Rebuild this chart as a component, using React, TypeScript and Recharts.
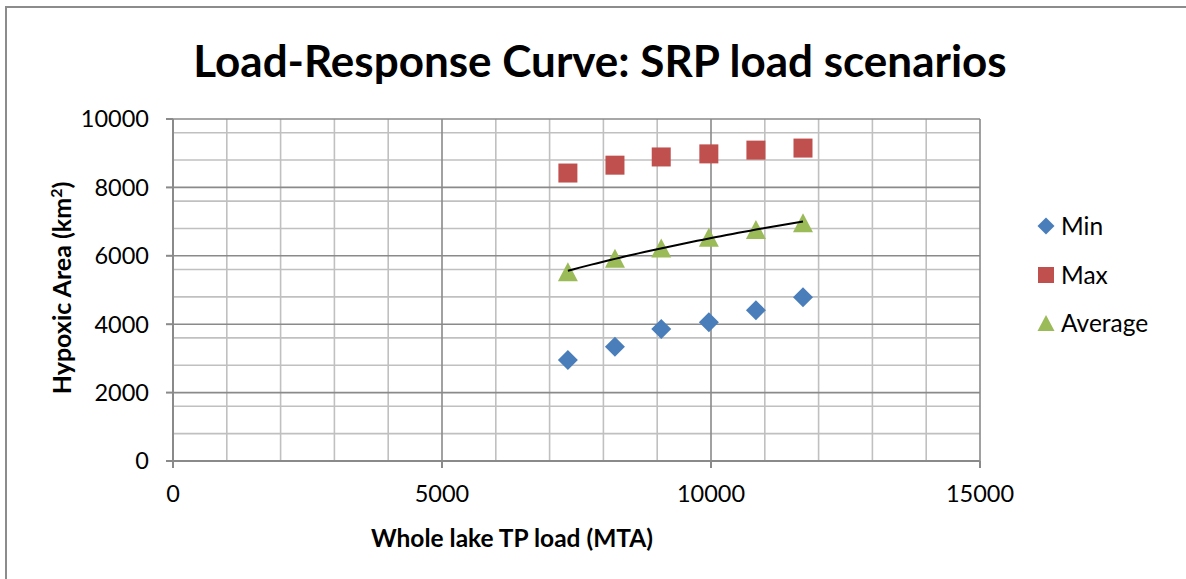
import React from 'react';
import { CartesianGrid, Scatter, ScatterChart, XAxis, YAxis } from 'recharts';

// Whole-lake TP load scenarios (MTA) and the resulting hypoxic area (km²)
const tpLoad = [7340, 8215, 9075, 9960, 10835, 11710];
const minArea = [2950, 3340, 3860, 4060, 4410, 4790];
const maxArea = [8420, 8650, 8890, 8980, 9090, 9150];
const avgArea = [5530, 5930, 6230, 6540, 6770, 6970];

const xTicks = [0, 5000, 10000, 15000];
const yTicks = [0, 2000, 4000, 6000, 8000, 10000];
const xMinorTicks = [1000, 2000, 3000, 4000, 6000, 7000, 8000, 9000, 11000, 12000, 13000, 14000];
const yMinorTicks = [
  400, 800, 1200, 1600, 2400, 2800, 3200, 3600, 4400, 4800, 5200, 5600, 6400, 6800, 7200, 7600, 8400,
  8800, 9200, 9600,
];

const BLUE = '#4a7ebb';
const RED = '#c0504d';
const GREEN = '#9bbb59';
const MAJOR = '#8a8a8a';
const MINOR = '#c0c0c0';
const FONT = 'Lato, "Open Sans", sans-serif';

const toPoints = (ys: number[]) => tpLoad.map((x, i) => ({ x, y: ys[i] }));

// Logarithmic least-squares trendline through the average series (y = a·ln x + b)
function logTrend(xs: number[], ys: number[], steps = 40) {
  const lx = xs.map((x) => Math.log(x));
  const n = xs.length;
  const mx = lx.reduce((s, v) => s + v, 0) / n;
  const my = ys.reduce((s, v) => s + v, 0) / n;
  let sxy = 0;
  let sxx = 0;
  lx.forEach((v, i) => {
    sxy += (v - mx) * (ys[i] - my);
    sxx += (v - mx) * (v - mx);
  });
  const a = sxy / sxx;
  const b = my - a * mx;
  const lo = Math.min(...xs);
  const hi = Math.max(...xs);
  return Array.from({ length: steps + 1 }, (_, k) => {
    const x = lo + ((hi - lo) * k) / steps;
    return { x, y: a * Math.log(x) + b };
  });
}

const minData = toPoints(minArea);
const maxData = toPoints(maxArea);
const avgData = toPoints(avgArea);
const trendData = logTrend(tpLoad, avgArea);

const Diamond = ({ cx, cy, r = 10 }: any) => (
  <path d={`M${cx},${cy - r}L${cx + r},${cy}L${cx},${cy + r}L${cx - r},${cy}Z`} fill={BLUE} />
);
const Square = ({ cx, cy, s = 19 }: any) => (
  <rect x={cx - s / 2} y={cy - s / 2} width={s} height={s} fill={RED} />
);
const Triangle = ({ cx, cy, w = 20, h = 19 }: any) => (
  <path d={`M${cx},${cy - h / 2}L${cx + w / 2},${cy + h / 2}L${cx - w / 2},${cy + h / 2}Z`} fill={GREEN} />
);
const NoMarker = () => <g />;

const legendItems = [
  { label: 'Min', marker: <Diamond cx={9} cy={9} r={8.5} /> },
  { label: 'Max', marker: <Square cx={9} cy={9} s={16} /> },
  { label: 'Average', marker: <Triangle cx={9} cy={9} w={17} h={16} /> },
];

export default function App() {
  return (
    <div style={{ position: 'absolute', left: 0, top: 0, width: 1186, height: 579, background: '#fff', fontFamily: FONT }}>
      <div
        style={{
          position: 'absolute',
          left: 5,
          top: 6,
          width: 1181,
          height: 573,
          borderLeft: '2px solid #8c8c8c',
          borderTop: '2px solid #8c8c8c',
          boxSizing: 'border-box',
        }}
      />
      <div
        style={{
          position: 'absolute',
          left: 0,
          width: 1200,
          top: 33,
          textAlign: 'center',
          fontSize: 44,
          fontWeight: 700,
          color: '#000',
          lineHeight: '54px',
        }}
      >
        Load-Response Curve: SRP load scenarios
      </div>

      <ScatterChart
        width={1186}
        height={579}
        margin={{ top: 119, right: 206, bottom: 68, left: 0 }}
        style={{ position: 'absolute', left: 0, top: 0 }}
      >
        <CartesianGrid
          stroke={MINOR}
          strokeWidth={1.6}
          verticalValues={xMinorTicks}
          horizontalValues={yMinorTicks}
        />
        <CartesianGrid stroke={MAJOR} strokeWidth={1.6} />
        <XAxis
          type="number"
          dataKey="x"
          domain={[0, 15000]}
          ticks={xTicks}
          height={50}
          tickSize={7}
          tickMargin={17}
          axisLine={{ stroke: MAJOR, strokeWidth: 2 }}
          tickLine={{ stroke: MAJOR, strokeWidth: 2 }}
          tick={{ fill: '#000', fontSize: 23.5, fontFamily: FONT }}
          allowDataOverflow
        />
        <YAxis
          type="number"
          dataKey="y"
          domain={[0, 10000]}
          ticks={yTicks}
          width={173}
          tickSize={7}
          tickMargin={17}
          axisLine={{ stroke: MAJOR, strokeWidth: 2 }}
          tickLine={{ stroke: MAJOR, strokeWidth: 2 }}
          tick={{ fill: '#000', fontSize: 23.5, fontFamily: FONT }}
          allowDataOverflow
        />
        <Scatter name="Min" data={minData} shape={<Diamond />} isAnimationActive={false} />
        <Scatter name="Max" data={maxData} shape={<Square />} isAnimationActive={false} />
        <Scatter name="Average" data={avgData} shape={<Triangle />} isAnimationActive={false} />
        <Scatter
          name="Log. (Average)"
          data={trendData}
          shape={<NoMarker />}
          line={{ stroke: '#000', strokeWidth: 2 }}
          lineType="joint"
          legendType="none"
          isAnimationActive={false}
        />
      </ScatterChart>

      <div
        style={{
          position: 'absolute',
          left: 0,
          width: 1024,
          top: 522,
          textAlign: 'center',
          fontSize: 24.5,
          fontWeight: 700,
          lineHeight: '32px',
        }}
      >
        Whole lake TP load (MTA)
      </div>
      <div
        style={{
          position: 'absolute',
          left: 61,
          top: 288,
          transform: 'translate(-50%, -50%) rotate(-90deg)',
          whiteSpace: 'nowrap',
          fontSize: 25,
          fontWeight: 700,
          lineHeight: '32px',
        }}
      >
        Hypoxic Area (km<sup style={{ fontSize: 16, lineHeight: 0 }}>2</sup>)
      </div>

      <div style={{ position: 'absolute', left: 1037, top: 202 }}>
        {legendItems.map((item) => (
          <div key={item.label} style={{ display: 'flex', alignItems: 'center', height: 48.5 }}>
            <svg width={18} height={18} style={{ marginRight: 6 }}>
              {item.marker}
            </svg>
            <span style={{ fontSize: 24.5, lineHeight: '30px' }}>{item.label}</span>
          </div>
        ))}
      </div>
    </div>
  );
}
